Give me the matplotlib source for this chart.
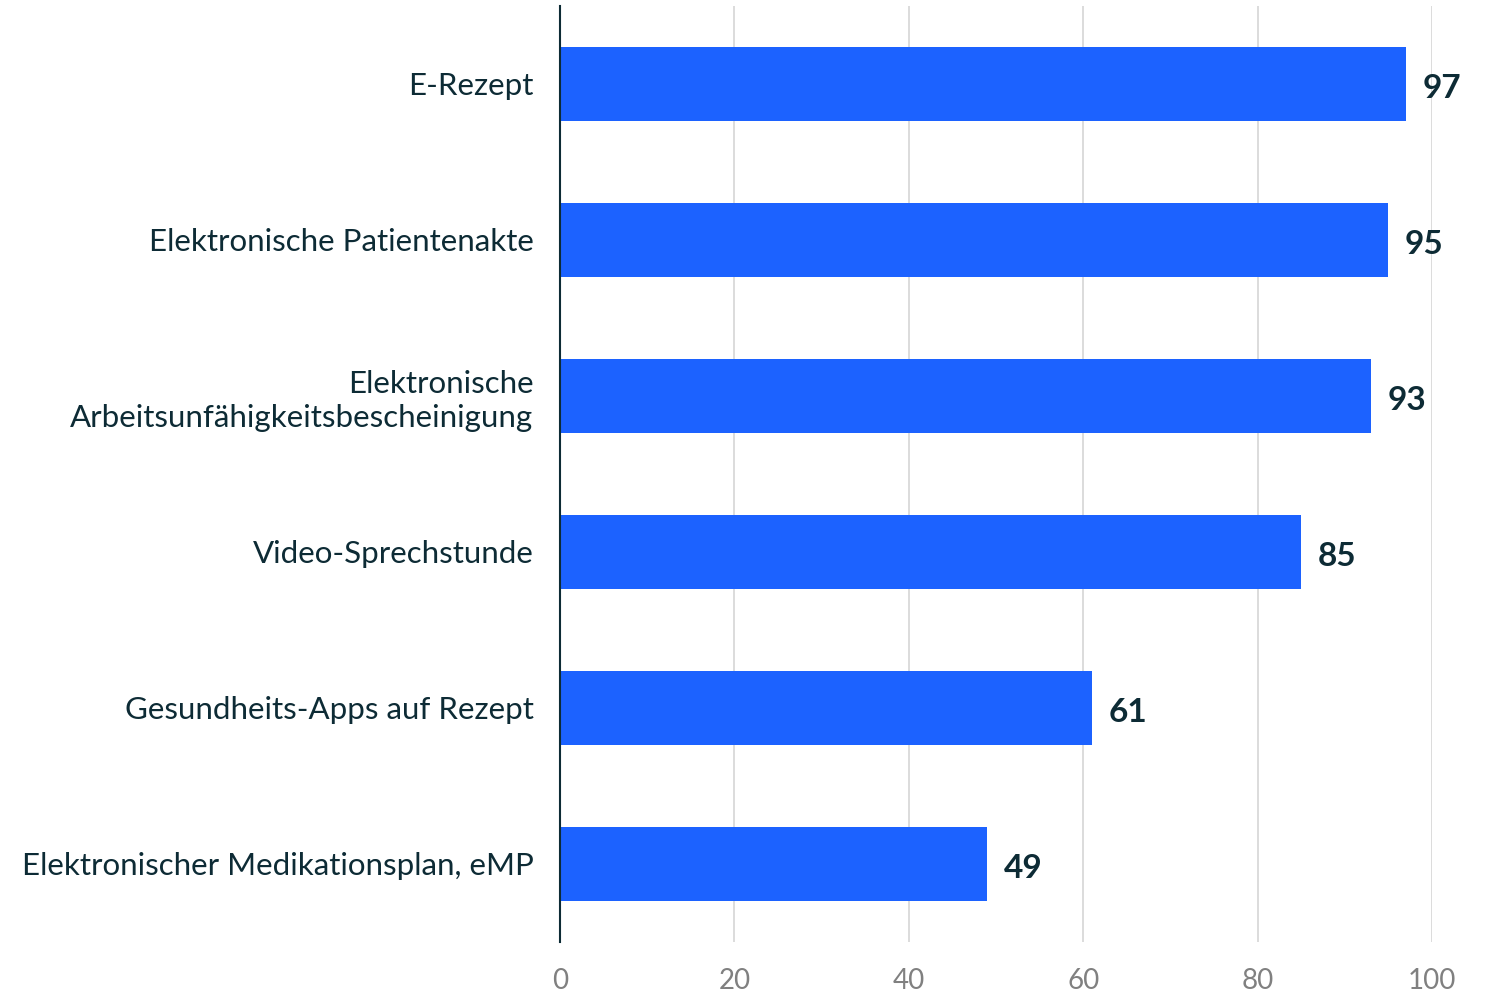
import matplotlib.pyplot as plt

categories = [
    "E-Rezept",
    "Elektronische Patientenakte",
    "Elektronische\nArbeitsunfähigkeitsbescheinigung",
    "Video-Sprechstunde",
    "Gesundheits-Apps auf Rezept",
    "Elektronischer Medikationsplan, eMP",
]
values = [97, 95, 93, 85, 61, 49]
xticks = [0, 20, 40, 60, 80, 100]

BLUE = "#1c62ff"
DARK = "#0d2b35"
GRAY = "#808080"

plt.rcParams["font.family"] = ["Lato", "DejaVu Sans"]

fig = plt.figure(figsize=(14.86, 9.92), dpi=100)
ax = fig.add_axes([560 / 1486, 1 - 942 / 992, 872 / 1486, 936 / 992])

ypos = list(range(len(categories)))
ax.barh(ypos, values, height=0.48, color=BLUE, zorder=3)
for y, v in zip(ypos, values):
    ax.text(v + 1.9, y + 0.03, str(v), va="center", ha="left", fontsize=24,
            fontweight="bold", color=DARK, zorder=4)

ax.set_xlim(0, 100)
ax.set_ylim(len(categories) - 0.5, -0.5)
ax.set_yticks(ypos)
ax.set_yticklabels(categories, fontsize=22.5, color=DARK, linespacing=1.25)
ax.set_xticks(xticks)
ax.set_xticklabels([str(t) for t in xticks], fontsize=20, color=GRAY)
ax.tick_params(axis="y", length=0, pad=19)
ax.tick_params(axis="x", length=0, pad=19)
ax.grid(axis="x", color="#d6d6d6", linewidth=1.2, zorder=0)
for s in ["top", "right", "bottom"]:
    ax.spines[s].set_visible(False)
ax.spines["left"].set_color(DARK)
ax.spines["left"].set_linewidth(1.5)
ax.spines["left"].set_zorder(5)

fig.savefig("out.png", dpi=100)
